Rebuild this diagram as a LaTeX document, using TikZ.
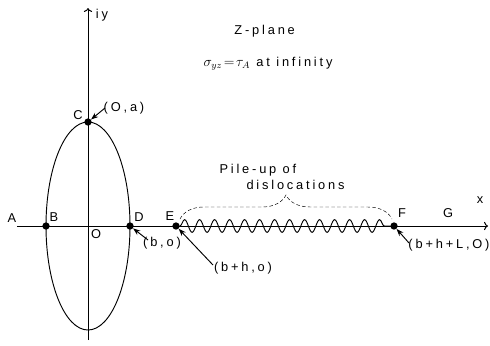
\documentclass[tikz,border=0pt,11pt]{standalone}
\usepackage{amsmath}
\usepackage{fontspec}
\setmainfont{Liberation Sans}[LetterSpace=22]
\usetikzlibrary{decorations.pathmorphing,decorations.pathreplacing,arrows.meta}
\begin{document}
\begin{tikzpicture}[
	pt/.style={circle,fill,inner sep=0pt,minimum size=0.22cm},
	pointer/.style={thick,-{Stealth[length=2.2mm,width=1.6mm]}},
	axis/.style={thick,->}]
	\useasboundingbox (-2.64,-3.57) rectangle (12.06,6.78);
	% axes
	\coordinate (xl) at (-2.13,0);
	\coordinate (xr) at (12.0,0);
	\coordinate (yb) at (0,-3.42);
	\coordinate (yt) at (0,6.54);
	\draw [axis] (xl) -- (xr);
	\draw [axis] (yb) -- (yt);
	\node (x) at (11.76,0.78) {x};
	\node (iy) at (0.42,6.33) {iy};
	% the slit
	\coordinate (O) at (0,0);
	\draw [thick] (O) ellipse [x radius=1.26, y radius=3.12];
	\begin{scope}[every node/.style={pt}]
	\node (B) at (-1.26,0) {};
	\node (D) at (1.26,0) {};
	\node (C) at (0,3.12) {};
	\node (E) at (2.64,0) {};
	\node (F) at (9.18,0) {};
	\end{scope}
	\node at (-2.28,0.24) {A};
	\node at (-1.02,0.27) {B};
	\node at (0.24,-0.24) {O};
	\node at (-0.3,3.33) {C};
	\node at (1.53,0.27) {D};
	\node at (2.46,0.30) {E};
	\node at (9.42,0.39) {F};
	\node at (10.8,0.39) {G};
	% dislocations
	\draw [thick,decorate,decoration={snake,segment length=0.45cm,amplitude=0.19cm}] (E) -- (F);
	\coordinate (br1) at (2.76,0.21);
	\coordinate (br2) at (9.12,0.21);
	\draw [thin,densely dashed,decorate,decoration={brace,amplitude=0.72cm}] (br1) -- (br2);
	\node [anchor=west] (pile) at (3.81,1.68) {Pile-up of};
	\node [anchor=west] (disl) at (4.62,1.23) {dislocations};
	% pointers
	\node (Ca) at (1.08,3.54) {(O,a)};
	\coordinate (Cs) at (0.51,3.54);
	\draw [pointer] (Cs) -- (C);
	\node (Da) at (2.22,-0.51) {(b,o)};
	\coordinate (Ds) at (1.8,-0.42);
	\draw [pointer] (Ds) -- (D);
	\node (Ea) at (4.65,-1.26) {(b+h,o)};
	\coordinate (Es) at (3.75,-1.17);
	\draw [pointer] (Es) -- (E);
	\node (Fa) at (10.83,-0.57) {(b+h+L,O)};
	\coordinate (Fs) at (9.63,-0.51);
	\draw [pointer] (Fs) -- (F);
	% title
	\node (title) at (5.3,5.85) {Z-plane};
	\node (stress) at (5.4,4.86) {{\large$\sigma_{yz}\!=\!\tau_A$} at infinity};
\end{tikzpicture}
\end{document}
